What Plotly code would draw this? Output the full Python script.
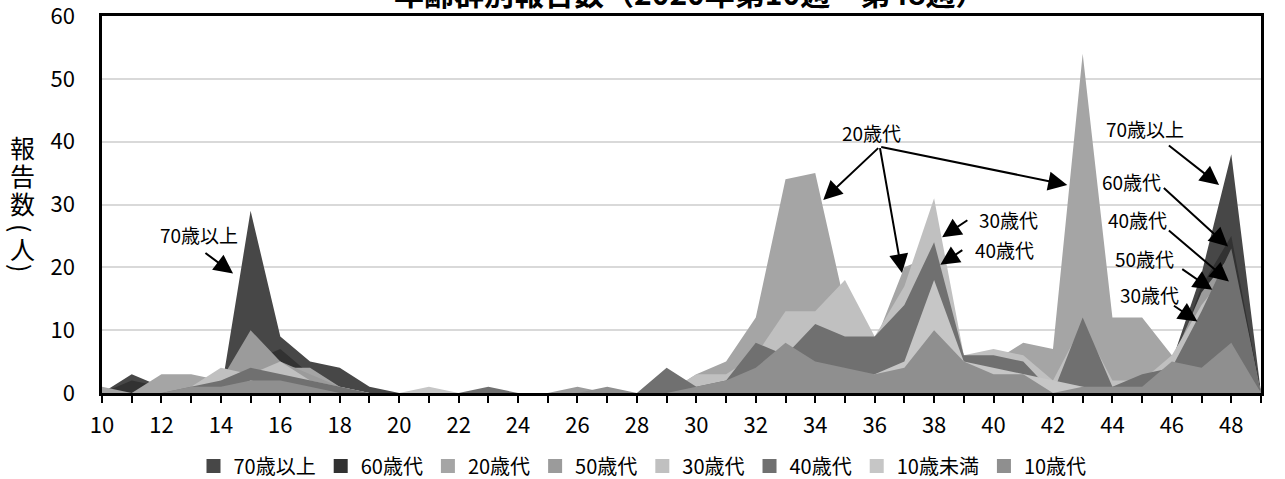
import plotly.graph_objects as go

weeks = [10, 11, 12, 13, 14, 15, 16, 17, 18, 19, 20, 21, 22, 23, 24, 25, 26, 27, 28, 29,
         30, 31, 32, 33, 34, 35, 36, 37, 38, 39, 40, 41, 42, 43, 44, 45, 46, 47, 48, 49]
week_labels = [10, 12, 14, 16, 18, 20, 22, 24, 26, 28, 30, 32, 34, 36, 38, 40, 42, 44, 46, 48]
y_ticks = [0, 10, 20, 30, 40, 50, 60]

age70 = [0, 3, 1, 0, 0, 29, 9, 5, 4, 1, 0, 0, 0, 0, 0, 0, 0, 0, 0, 0,
         1, 1, 2, 3, 4, 3, 3, 4, 5, 5, 6, 7, 2, 1, 1, 2, 5, 19, 38, 0]
age60 = [0, 2, 1, 0, 0, 5, 7, 3, 1, 0, 0, 0, 0, 0, 0, 0, 0, 0, 0, 0,
         0, 1, 2, 2, 3, 2, 2, 3, 4, 3, 3, 3, 1, 1, 1, 1, 4, 17, 25, 0]
age20 = [1, 0, 3, 3, 2, 6, 4, 4, 1, 0, 0, 0, 0, 0, 0, 0, 0, 0, 0, 0,
         3, 5, 12, 34, 35, 14, 8, 20, 22, 6, 5, 8, 7, 54, 12, 12, 6, 8, 14, 0]
age50 = [0, 0, 0, 1, 2, 10, 5, 3, 1, 0, 0, 0, 0, 0, 0, 0, 1, 0, 0, 0,
         1, 2, 5, 8, 7, 6, 5, 8, 12, 5, 4, 4, 1, 1, 1, 2, 5, 16, 22, 0]
age30 = [0, 0, 0, 1, 4, 3, 5, 2, 1, 0, 0, 0, 0, 0, 0, 0, 0, 0, 0, 0,
         3, 3, 6, 13, 13, 18, 9, 17, 31, 6, 7, 6, 2, 11, 2, 2, 6, 14, 20, 0]
age40 = [0, 0, 0, 1, 2, 4, 3, 2, 1, 0, 0, 0, 0, 1, 0, 0, 0, 0, 0, 4,
         1, 2, 8, 6, 11, 9, 9, 14, 24, 6, 6, 5, 0, 12, 1, 3, 4, 13, 23, 0]
ageU10 = [0, 0, 0, 0, 0, 2, 1, 0, 0, 0, 0, 1, 0, 0, 0, 0, 0, 0, 0, 0,
          0, 1, 1, 2, 3, 3, 3, 5, 18, 5, 4, 3, 2, 1, 0, 0, 3, 3, 6, 0]
age10s = [0, 0, 0, 1, 1, 2, 2, 1, 0, 0, 0, 0, 0, 0, 0, 0, 0, 1, 0, 0,
          1, 2, 4, 8, 5, 4, 3, 4, 10, 5, 3, 3, 0, 1, 1, 1, 5, 4, 8, 0]

series_names = ["70歳以上", "60歳代", "20歳代", "50歳代", "30歳代", "40歳代", "10歳未満", "10歳代"]
series_values = [age70, age60, age20, age50, age30, age40, ageU10, age10s]
series_colors = ["#474747", "#323232", "#a5a5a5", "#9b9b9b", "#c0c0c0", "#707070", "#c6c6c6", "#8f8f8f"]

JP = "Noto Sans CJK JP"
W, H = 1285, 479
ML, MR, MT, MB = 102, 24, 16, 86
PW, PH = W - ML - MR, H - MT - MB


def px_x(px):
    return (px - ML) / PW


def px_y(py):
    return (H - MB - py) / PH


fig = go.Figure()
for name, vals, col in zip(series_names, series_values, series_colors):
    fig.add_trace(go.Scatter(x=weeks, y=vals, mode="lines", line=dict(width=0, color=col),
                             fill="tozeroy", fillcolor=col, showlegend=False, hoverinfo="skip"))
for name, col in zip(series_names, series_colors):
    fig.add_trace(go.Scatter(x=[None], y=[None], mode="markers", name=name,
                             marker=dict(symbol="square", size=14, color=col)))

labels = [
    ("70歳以上", 13.25, 25.2),
    ("20歳代", 35.91, 41.45),
    ("30歳代", 40.49, 27.55),
    ("40歳代", 40.37, 22.9),
    ("70歳以上", 45.08, 42.1),
    ("60歳代", 44.64, 33.6),
    ("40歳代", 44.84, 27.55),
    ("50歳代", 45.08, 21.46),
    ("30歳代", 45.25, 15.63),
]
for t, x, y in labels:
    fig.add_annotation(x=x, y=y, xref="x", yref="y", text=t, showarrow=False,
                       xanchor="center", yanchor="middle",
                       font=dict(family=JP, size=19, color="black"))

arrows = [
    (13.43, 22.46, 14.41, 19.0),
    (36.17, 39.2, 34.27, 30.73),
    (36.17, 39.2, 36.92, 19.08),
    (36.17, 39.2, 42.48, 33.12),
    (39.17, 27.66, 38.27, 24.8),
    (39.0, 22.89, 38.21, 20.4),
    (45.85, 39.59, 47.59, 33.12),
    (45.68, 32.85, 47.89, 23.31),
    (45.85, 26.07, 47.92, 17.74),
    (46.3, 19.87, 47.36, 16.42),
    (46.02, 14.04, 46.86, 11.38),
]
for ax, ay, x, y in arrows:
    fig.add_annotation(x=x, y=y, ax=ax, ay=ay, xref="x", yref="y", axref="x", ayref="y",
                       text="", showarrow=True, arrowhead=2, arrowsize=1.9, arrowwidth=2,
                       arrowcolor="black")

fig.add_annotation(x=49.4, y=-0.75, xref="x", yref="y", text="週", showarrow=False,
                   xanchor="center", yanchor="middle",
                   font=dict(family=JP, size=21, color="black"))

# vertical y-axis title
ychars = [("報", 147, 0), ("告", 175, 0), ("数", 203, 0), ("(", 228, 90), ("人", 248, 0), (")", 268, 90)]
for ch, py, ang in ychars:
    fig.add_annotation(x=px_x(22), y=px_y(py), xref="paper", yref="paper", text=ch,
                       showarrow=False, textangle=ang, xanchor="center", yanchor="middle",
                       font=dict(family=JP, size=25, color="black"))

# title (mostly cut off at the top edge)
fig.add_annotation(x=px_x(690), y=px_y(-8), xref="paper", yref="paper",
                   text="<b>年齢群別報告数（2020年第10週～第48週）</b>", showarrow=False,
                   xanchor="center", yanchor="middle",
                   font=dict(family=JP, size=30, color="black"))

fig.update_layout(
    width=W, height=H,
    margin=dict(l=ML, r=MR, t=MT, b=MB, autoexpand=False),
    paper_bgcolor="white", plot_bgcolor="white",
    font=dict(family=JP, color="black"),
    showlegend=True,
    legend=dict(orientation="h", xref="container", yref="container", x=0.5, xanchor="center",
                y=13 / H, yanchor="middle", font=dict(family=JP, size=20, color="black"),
                itemwidth=30, tracegroupgap=0),
    xaxis=dict(range=[10, 49], tickmode="array", tickvals=week_labels, showgrid=False, zeroline=False,
               showline=True, linecolor="black", linewidth=2.5, mirror=True,
               ticks="outside", ticklen=7, tickwidth=2, tickcolor="black",
               minor=dict(dtick=1, tick0=10, ticks="outside", ticklen=7, tickwidth=2, tickcolor="black"),
               tickfont=dict(family=JP, size=22, color="black"), ticklabelstandoff=4),
    yaxis=dict(range=[0, 60], tickmode="array", tickvals=y_ticks, showgrid=True,
               gridcolor="#d9d9d9", gridwidth=1.5, ticklabeloverflow="allow",
               zeroline=False, showline=True, linecolor="black", linewidth=2.5, mirror=True,
               ticks="", tickfont=dict(family=JP, size=22, color="black"), ticklabelstandoff=20),
)

fig.write_html("out.html", config={"displayModeBar": False},
               post_script="document.body.style.margin='0px';")
